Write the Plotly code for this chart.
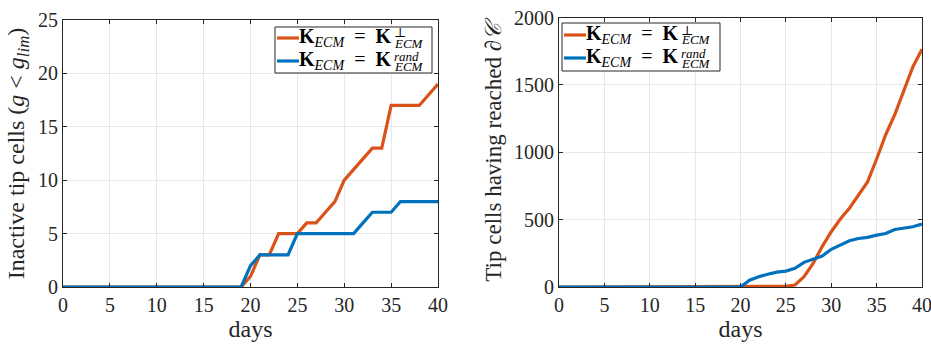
import plotly.graph_objects as go

# ---- data -------------------------------------------------------------
days = list(range(0, 41))

inactive_perp = [0] * 20 + [1, 3, 3, 5, 5, 5, 6, 6, 7, 8, 10, 11, 12, 13, 13,
                            17, 17, 17, 17, 18, 19]
inactive_rand = [0] * 20 + [2, 3, 3, 3, 3, 5, 5, 5, 5, 5, 5, 5, 6, 7, 7,
                            7, 8, 8, 8, 8, 8]

reached_perp = [0] * 25 + [5, 15, 76, 175, 300, 410, 505, 585, 680, 780,
                           950, 1130, 1280, 1465, 1635, 1765]
reached_rand = [0] * 21 + [50, 76, 95, 110, 118, 138, 183, 207, 230, 280,
                           311, 343, 360, 368, 385, 397, 427, 439, 447, 467]

x_ticks = [0, 5, 10, 15, 20, 25, 30, 35, 40]
y1_ticks = [0, 5, 10, 15, 20, 25]
y2_ticks = [0, 500, 1000, 1500, 2000]

# ---- styling ----------------------------------------------------------
W, H = 931, 344
ORANGE = "#D95319"
BLUE = "#0072BD"
FONT = "Liberation Serif, DejaVu Serif, serif"
AX_COL = "#262626"


def px(x):
    return x / W


def py(y):
    return 1 - y / H


fig = go.Figure()

for xs, ys, col, xa, ya in [
    (days, inactive_perp, ORANGE, "x", "y"),
    (days, inactive_rand, BLUE, "x", "y"),
    (days, reached_perp, ORANGE, "x2", "y2"),
    (days, reached_rand, BLUE, "x2", "y2"),
]:
    fig.add_trace(go.Scatter(x=xs, y=ys, mode="lines",
                             line=dict(color=col, width=3.2),
                             xaxis=xa, yaxis=ya, showlegend=False))

axis_common = dict(
    showline=True, linecolor=AX_COL, linewidth=1, mirror="ticks",
    ticks="inside", ticklen=4, tickcolor=AX_COL,
    showgrid=True, gridcolor="#e8e8e8", gridwidth=1,
    zeroline=False, automargin=False, ticklabeloverflow="allow",
    tickfont=dict(family=FONT, size=20, color=AX_COL),
)
title_font = dict(family=FONT, size=24, color=AX_COL)

fig.update_layout(
    width=W, height=H,
    margin=dict(l=0, r=0, t=0, b=0, autoexpand=False),
    font=dict(family=FONT),
    paper_bgcolor="white", plot_bgcolor="white",
    xaxis=dict(domain=[px(63), px(438)], range=[0, 40], tickvals=x_ticks,
               anchor="y",
               title=dict(text="days", standoff=4, font=title_font),
               **axis_common),
    yaxis=dict(domain=[py(287), py(20)], range=[0, 25], tickvals=y1_ticks,
               anchor="x",
               title=dict(text="Inactive tip cells (<i>g</i> &lt; <i>g</i><sub><i>lim</i></sub>)",
                          standoff=6, font=title_font),
               **axis_common),
    xaxis2=dict(domain=[px(559), px(922)], range=[0, 40], tickvals=x_ticks,
                anchor="y2",
                title=dict(text="days", standoff=4, font=title_font),
                **axis_common),
    yaxis2=dict(domain=[py(287), py(17.5)], range=[0, 2000], tickvals=y2_ticks,
                anchor="x2",
                title=dict(text="Tip cells having reached ∂<i>𝒞</i>",
                           standoff=5, font=dict(family=FONT, size=23, color=AX_COL)),
                **axis_common),
)


# ---- hand-built legends (stacked super/subscripts) ---------------------
def legend(x0, y0, x1, y1, rows):
    fig.add_shape(type="rect", xref="paper", yref="paper",
                  x0=px(x0), x1=px(x1), y0=py(y1), y1=py(y0),
                  line=dict(color=AX_COL, width=1), fillcolor="white",
                  layer="above")
    for (cy, col, sup) in rows:
        fig.add_shape(type="line", xref="paper", yref="paper",
                      x0=px(x0 + 2), x1=px(x0 + 24), y0=py(cy), y1=py(cy),
                      line=dict(color=col, width=3.2), layer="above")
        fig.add_annotation(xref="paper", yref="paper", x=px(x0 + 23), y=py(cy),
                           xanchor="left", yanchor="middle", showarrow=False,
                           borderpad=0,
                           text="<b>K</b><sub><i>ECM</i></sub>  =  <b>K</b>",
                           font=dict(family=FONT, size=20, color="black"))
        fig.add_annotation(xref="paper", yref="paper", x=px(x0 + 118), y=py(cy - 5),
                           xanchor="left", yanchor="middle", showarrow=False,
                           borderpad=0, text=sup,
                           font=dict(family=FONT, size=13, color="black"))
        fig.add_annotation(xref="paper", yref="paper", x=px(x0 + 118), y=py(cy + 5),
                           xanchor="left", yanchor="middle", showarrow=False,
                           borderpad=0, text="<i>ECM</i>",
                           font=dict(family=FONT, size=13, color="black"))


legend(275, 27, 432, 73, [(38, ORANGE, "⊥"), (61, BLUE, "<i>rand</i>")])
legend(562, 23, 720, 71, [(35, ORANGE, "⊥"), (58, BLUE, "<i>rand</i>")])

fig.write_html("out.html")
